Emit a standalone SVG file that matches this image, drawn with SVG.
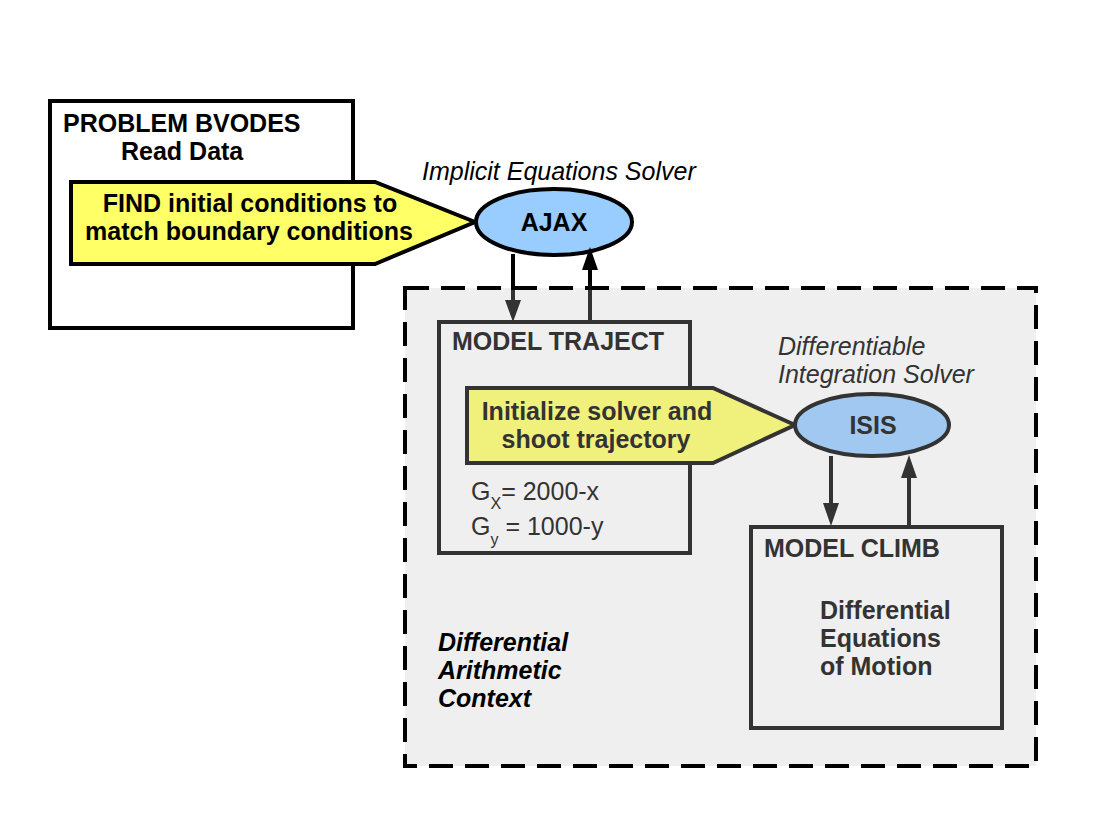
<svg xmlns="http://www.w3.org/2000/svg" width="1113" height="835" viewBox="0 0 1113 835">
<style>
text{font-family:"Liberation Sans",Arial,sans-serif;font-size:25px}
.b{font-weight:bold}
.i{font-style:italic}
.k{fill:#000}
.g{fill:#333}
.box{fill:none;stroke:#000;stroke-width:4}
.gbox{fill:none;stroke:#333;stroke-width:4}
.ln{stroke:#000;stroke-width:4;fill:none}
.gln{stroke:#333;stroke-width:4;fill:none}
</style>
<rect width="1113" height="835" fill="#fff"/>
<g id="context">
<rect x="405" y="288" width="631" height="478" fill="#efefef" stroke="#000" stroke-width="4" stroke-dasharray="24,12"/>
<text class="b i k" x="438" y="651">Differential</text>
<text class="b i k" x="438" y="679">Arithmetic</text>
<text class="b i k" x="438" y="707">Context</text>
</g>
<g id="problem">
<rect class="box" x="50" y="101" width="303" height="227" fill="#fff"/>
<text class="b k" x="63" y="132">PROBLEM BVODES</text>
<text class="b k" x="121" y="160">Read Data</text>
</g>
<g id="find">
<polygon points="71,182 375,182 475,222 375,264 71,264" fill="#ffff66" stroke="#000" stroke-width="4" stroke-linejoin="miter"/>
<text class="b k" x="250" y="212" text-anchor="middle">FIND initial conditions to</text>
<text class="b k" x="249" y="240" text-anchor="middle">match boundary conditions</text>
</g>
<g id="ajax">
<text class="i k" x="422" y="180">Implicit Equations Solver</text>
<ellipse cx="554" cy="222" rx="78" ry="33" fill="#99ccff" stroke="#000" stroke-width="4"/>
<text class="b k" x="554" y="231" text-anchor="middle">AJAX</text>
</g>
<g id="traject">
<rect class="gbox" x="439" y="322" width="251" height="231"/>
<text class="b g" x="452" y="350">MODEL TRAJECT</text>
<text class="g" x="471" y="500">G<tspan font-size="16" dy="9">X</tspan><tspan dy="-9">= 2000-x</tspan></text>
<text class="g" x="471" y="535">G<tspan font-size="16" dy="10">y</tspan><tspan dy="-10"> = 1000-y</tspan></text>
</g>
<g id="init">
<polygon points="467,388 713,388 795,425 713,463 467,463" fill="#f0f07c" stroke="#333" stroke-width="4"/>
<text class="b g" x="597" y="420" text-anchor="middle">Initialize solver and</text>
<text class="b g" x="596" y="448" text-anchor="middle">shoot trajectory</text>
</g>
<g id="isis">
<text class="i g" x="778" y="355">Differentiable</text>
<text class="i g" x="778" y="383">Integration Solver</text>
<ellipse cx="872" cy="425" rx="77" ry="31" fill="#a0c8f0" stroke="#333" stroke-width="4"/>
<text class="b g" x="873" y="434" text-anchor="middle">ISIS</text>
</g>
<g id="climb">
<rect class="gbox" x="751" y="527" width="251" height="201"/>
<text class="b g" x="764" y="557">MODEL CLIMB</text>
<text class="b g" x="820" y="619">Differential</text>
<text class="b g" x="820" y="647">Equations</text>
<text class="b g" x="820" y="675">of Motion</text>
</g>
<g id="connectors">
<line class="ln" x1="513" y1="254" x2="513" y2="290"/>
<line class="gln" x1="513" y1="290" x2="513" y2="302"/>
<polygon points="505,300 521,300 513,322" fill="#333"/>
<line class="gln" x1="590" y1="321" x2="590" y2="290"/>
<line class="ln" x1="590" y1="290" x2="590" y2="266"/>
<polygon points="582,270 598,270 590,247" fill="#000"/>
<line class="gln" x1="831" y1="456" x2="831" y2="505"/>
<polygon points="823,503 839,503 831,526" fill="#333"/>
<line class="gln" x1="909" y1="526" x2="909" y2="476"/>
<polygon points="901,478 917,478 909,455" fill="#333"/>
</g>
</svg>
